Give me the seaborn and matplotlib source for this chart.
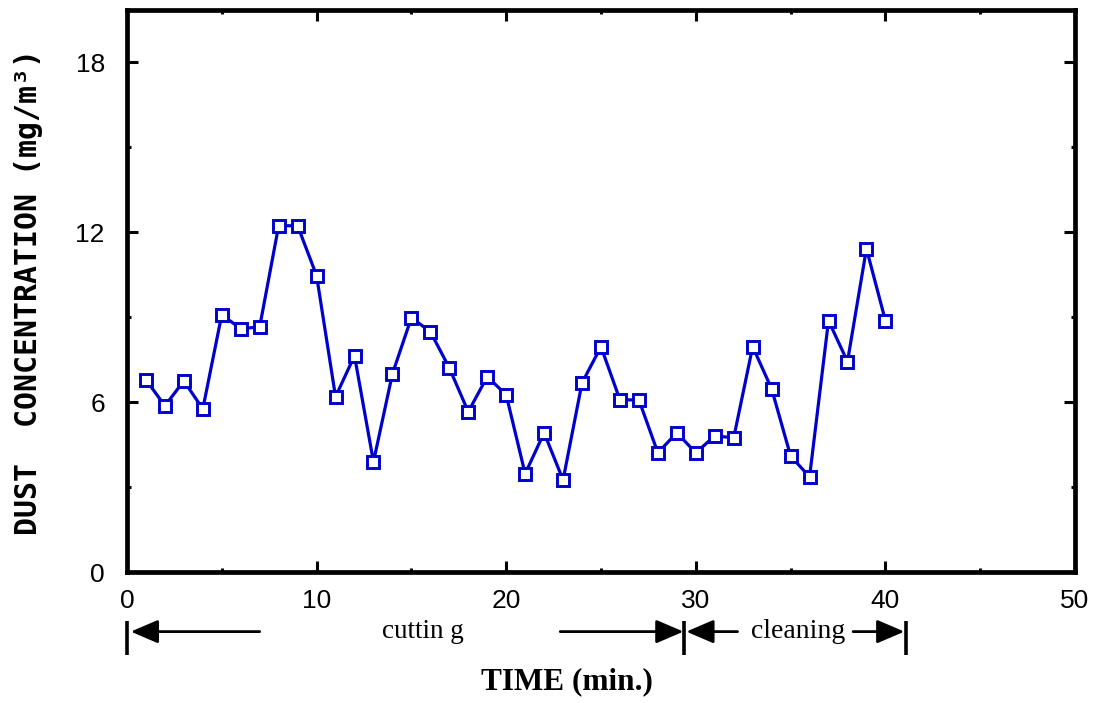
import matplotlib
matplotlib.use("Agg")
import matplotlib.pyplot as plt
import seaborn as sns
import pandas as pd
from matplotlib.ticker import MultipleLocator

# Dust concentration measured once per minute
time_min = list(range(1, 41))
dust_conc = [6.79, 5.87, 6.75, 5.76, 9.09, 8.59, 8.66, 12.23, 12.23, 10.47,
             6.19, 7.64, 3.89, 7.00, 8.98, 8.49, 7.21, 5.66, 6.90, 6.26,
             3.47, 4.92, 3.25, 6.68, 7.96, 6.08, 6.08, 4.21, 4.92, 4.21,
             4.81, 4.74, 7.96, 6.47, 4.10, 3.36, 8.88, 7.43, 11.42, 8.88]

x_ticks = [0, 10, 20, 30, 40, 50]
y_ticks = [0, 6, 12, 18]

# Work phases along the time axis (start, end)
cutting_span = (0.0, 29.4)
cleaning_span = (29.4, 41.1)

df = pd.DataFrame({"time": time_min, "conc": dust_conc})

sns.set_theme(style="white")
plt.rcParams["font.family"] = ["Liberation Sans", "DejaVu Sans"]
plt.rcParams["text.color"] = "black"

fig = plt.figure(figsize=(11.07, 7.03), dpi=100)
ax = fig.add_axes([0.1147, 0.1863, 0.8564, 0.7995])

blue = "#0000CD"
sns.lineplot(data=df, x="time", y="conc", ax=ax, color=blue, linewidth=2.3,
             marker="s", markersize=8, markerfacecolor="white",
             markeredgecolor=blue, markeredgewidth=2.1)

ax.set_xlim(0, 50)
ax.set_ylim(0, 19.85)
ax.set_xticks(x_ticks)
ax.set_yticks(y_ticks)
ax.xaxis.set_minor_locator(MultipleLocator(5))
ax.yaxis.set_minor_locator(MultipleLocator(3))

for s in ax.spines.values():
    s.set_linewidth(3.4)
    s.set_color("black")

ax.tick_params(which="both", bottom=True, left=True, top=True, right=True,
               direction="in", width=2.2, colors="black")
ax.tick_params(which="major", length=8, labelsize=19, pad=16)
ax.tick_params(which="minor", length=3)
ax.tick_params(axis="x", which="major", pad=12)

ax.set_xlabel("")
ax.set_ylabel("")

# Y-axis title
fig.text(0.026, 0.584, "DUST  CONCENTRATION (mg/m³)", rotation=90,
         ha="center", va="center", fontsize=21.5, fontweight="bold",
         color="black", family=["DejaVu Sans Mono"])

# X-axis title
ax.text(23.2, -0.195, "TIME (min.)", transform=ax.get_xaxis_transform(),
        ha="center", va="center", fontsize=22.5, fontweight="bold",
        color="black", family=["Liberation Serif"])

# Phase arrows beneath the axis
trans = ax.get_xaxis_transform()
y_arr = -0.106
bar_lo, bar_hi = -0.088, -0.147
arrow_kw = dict(arrowstyle="-|>,head_length=1.4,head_width=0.6",
                color="black", lw=2.0, shrinkA=0, shrinkB=0)

for xb in (cutting_span[0], cutting_span[1], cleaning_span[1]):
    ax.plot([xb, xb], [bar_lo, bar_hi], transform=trans, color="black",
            lw=2.6, clip_on=False, solid_capstyle="butt")

c0, c1 = cutting_span
ax.annotate("", xy=(c0 + 0.2, y_arr), xytext=(7.0, y_arr),
            xycoords=trans, textcoords=trans, arrowprops=arrow_kw)
ax.annotate("", xy=(c1 - 0.05, y_arr), xytext=(22.85, y_arr),
            xycoords=trans, textcoords=trans, arrowprops=arrow_kw)
ax.text(15.6, y_arr, "cuttin g", transform=trans, ha="center", va="center",
        fontsize=19.5, color="black", family=["Liberation Serif"])

k0, k1 = cleaning_span
ax.annotate("", xy=(k0 + 0.1, y_arr), xytext=(32.2, y_arr),
            xycoords=trans, textcoords=trans, arrowprops=arrow_kw)
ax.annotate("", xy=(k1 - 0.1, y_arr), xytext=(38.3, y_arr),
            xycoords=trans, textcoords=trans, arrowprops=arrow_kw)
ax.text(35.4, y_arr, "cleaning", transform=trans, ha="center", va="center",
        fontsize=20, color="black", family=["Liberation Serif"])

fig.savefig("out.png", dpi=100, facecolor="white")
